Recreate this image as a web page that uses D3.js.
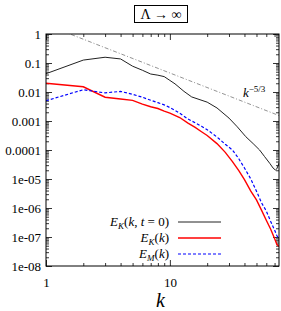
<!DOCTYPE html>
<html>
<head>
<script src="https://d3js.org/d3.v7.min.js"></script>
<style>
body { margin: 0; background: #fff; }
text { font-family: "Liberation Serif", "DejaVu Serif", serif; }
</style>
</head>
<body>
<div id="chart"></div>
<script>
// spectra
const kInit = [1, 2, 3, 4, 5, 6, 7, 8, 9, 10, 11, 13, 15, 20, 24, 30, 35, 41, 47, 53, 58, 64, 68, 71, 73, 76];
const eInit = [0.0427, 0.126, 0.158, 0.138, 0.0776, 0.0562, 0.0417, 0.038, 0.0339, 0.0251, 0.0191, 0.0105, 0.00676,
  0.00447, 0.00282, 0.00126, 6.3e-4, 2.88e-4, 1.66e-4, 1.0e-4, 6.0e-5, 3.47e-5, 2.4e-5, 2.04e-5, 2.24e-5, 3.55e-5];

const kSpec = [1, 2, 3, 4, 5, 6, 7, 8, 9, 10, 12, 14, 16, 18, 20, 24, 28, 32, 36, 40, 45, 50, 55, 60, 65, 70, 73, 76];
const eKin = [0.020, 0.0151, 0.0066, 0.00575, 0.00513, 0.0038, 0.00309, 0.00269, 0.00219, 0.00186, 0.00132, 8.5e-4,
  6.0e-4, 4.27e-4, 3.16e-4, 1.66e-4, 8.3e-5, 3.98e-5, 1.95e-5, 9.5e-6, 3.8e-6, 1.9e-6, 8.3e-7, 3.8e-7, 1.9e-7,
  8.9e-8, 5.6e-8, 4.7e-8];
const eMag = [0.005, 0.012, 0.0093, 0.0105, 0.0083, 0.0066, 0.0052, 0.0043, 0.0036, 0.0029, 0.00186, 0.00117,
  8.7e-4, 6.6e-4, 5.0e-4, 2.8e-4, 1.58e-4, 1.0e-4, 5.0e-5, 2.4e-5, 1.0e-5, 3.8e-6, 1.5e-6, 7.9e-7, 3.5e-7,
  1.74e-7, 1.12e-7, 8.3e-8];

// k^-5/3 guide line: C k^-5/3
const kGuide = [1, 76];
const cGuide = 2.1;

const yTicks = [1, 0.1, 0.01, 0.001, 0.0001, 1e-5, 1e-6, 1e-7, 1e-8];
const yTickLabels = ["1", "0.1", "0.01", "0.001", "0.0001", "1e-05", "1e-06", "1e-07", "1e-08"];
const xTicks = [1, 10];
const xTickLabels = ["1", "10"];

const svg = d3.select("#chart").append("svg")
  .attr("width", 281)
  .attr("height", 311);

const margin = { top: 34, right: 2, bottom: 45, left: 46 };
const width = 281 - margin.left - margin.right;
const height = 311 - margin.top - margin.bottom;

const xScale = d3.scaleLog().domain([1, 76]).range([0, width]);
const yScale = d3.scaleLog().domain([1e-8, 1]).range([height, 0]);

const chart = svg.append("g").attr("transform", `translate(${margin.left},${margin.top})`);

svg.append("defs").append("clipPath").attr("id", "clip")
  .append("rect").attr("width", width).attr("height", height);

// minor ticks 2..9 in each decade
const minorX = [];
for (let d = 1; d <= 10; d *= 10) for (let m = 2; m <= 9; m++) if (d * m <= 76) minorX.push(d * m);
const minorY = [];
for (let e = -8; e < 0; e++) for (let m = 2; m <= 9; m++) minorY.push(m * Math.pow(10, e));

function axes() {
  chart.append("g").attr("transform", `translate(0,${height})`)
    .call(d3.axisBottom(xScale).tickValues(minorX).tickSize(-3).tickFormat(""));
  chart.append("g")
    .call(d3.axisTop(xScale).tickValues(minorX).tickSize(-3).tickFormat(""));
  chart.append("g")
    .call(d3.axisLeft(yScale).tickValues(minorY).tickSize(-3).tickFormat(""));
  chart.append("g").attr("transform", `translate(${width},0)`)
    .call(d3.axisRight(yScale).tickValues(minorY).tickSize(-3).tickFormat(""));

  chart.append("g").attr("class", "xax").attr("transform", `translate(0,${height})`)
    .call(d3.axisBottom(xScale).tickValues(xTicks).tickSize(-6).tickPadding(12)
      .tickFormat((d, i) => xTickLabels[i]));
  chart.append("g")
    .call(d3.axisTop(xScale).tickValues(xTicks).tickSize(-6).tickFormat(""));
  chart.append("g").attr("class", "yax")
    .call(d3.axisLeft(yScale).tickValues(yTicks).tickSize(-6).tickPadding(5)
      .tickFormat((d, i) => yTickLabels[i]));
  chart.append("g").attr("transform", `translate(${width},0)`)
    .call(d3.axisRight(yScale).tickValues(yTicks).tickSize(-6).tickFormat(""));

  chart.selectAll(".domain").remove();
  chart.selectAll(".tick line").attr("stroke", "#000").attr("stroke-width", 0.8);
  chart.selectAll(".xax text, .yax text")
    .style("font-family", "'Liberation Serif', serif")
    .style("font-size", "13px")
    .attr("fill", "#000");
}
axes();

const plot = chart.append("g").attr("clip-path", "url(#clip)");

const line = d3.line()
  .x(d => xScale(d[0]))
  .y(d => yScale(d[1]));

plot.append("path")
  .datum(kGuide.map(k => [k, cGuide * Math.pow(k, -5 / 3)]))
  .attr("fill", "none")
  .attr("stroke", "#777")
  .attr("stroke-width", 0.8)
  .attr("stroke-dasharray", "4,2,1,2")
  .attr("d", line);

plot.append("path")
  .datum(kInit.map((k, i) => [k, eInit[i]]))
  .attr("fill", "none")
  .attr("stroke", "#222")
  .attr("stroke-width", 1)
  .attr("d", line);

plot.append("path")
  .datum(kSpec.map((k, i) => [k, eKin[i]]))
  .attr("fill", "none")
  .attr("stroke", "#f00")
  .attr("stroke-width", 1.4)
  .attr("d", line);

plot.append("path")
  .datum(kSpec.map((k, i) => [k, eMag[i]]))
  .attr("fill", "none")
  .attr("stroke", "#00f")
  .attr("stroke-width", 1.2)
  .attr("stroke-dasharray", "3,2")
  .attr("d", line);

// frame
chart.append("rect")
  .attr("width", width).attr("height", height)
  .attr("fill", "none").attr("stroke", "#000").attr("stroke-width", 1);

// k^-5/3 label
const guideLab = chart.append("text")
  .attr("x", 197).attr("y", 63)
  .style("font-size", "13px");
guideLab.append("tspan").style("font-style", "italic").text("k");
guideLab.append("tspan").attr("dy", -5).style("font-size", "9px").text("−5/3");

// legend
const legend = [
  { sub: "K", arg: ["(", "k", ", ", "t", " = 0)"], color: "#222", w: 1, dash: null },
  { sub: "K", arg: ["(", "k", ")"], color: "#f00", w: 1.4, dash: null },
  { sub: "M", arg: ["(", "k", ")"], color: "#00f", w: 1.2, dash: "3,2" }
];
const lg = chart.append("g");
legend.forEach((d, i) => {
  const y = 188 + i * 16;
  const t = lg.append("text").attr("x", 123).attr("y", y + 4)
    .attr("text-anchor", "end").style("font-size", "13px");
  t.append("tspan").style("font-style", "italic").text("E");
  t.append("tspan").attr("dy", 3).style("font-size", "9px").style("font-style", "italic").text(d.sub);
  d.arg.forEach((s, j) => {
    const sp = t.append("tspan").text(s);
    if (j === 0) sp.attr("dy", -3);
    if (s === "k" || s === "t") sp.style("font-style", "italic");
  });
  lg.append("line")
    .attr("x1", 132).attr("x2", 175).attr("y1", y).attr("y2", y)
    .attr("stroke", d.color).attr("stroke-width", d.w)
    .attr("stroke-dasharray", d.dash);
});

// axis label
svg.append("text")
  .attr("x", margin.left + width / 2 - 2).attr("y", 307)
  .attr("text-anchor", "middle")
  .style("font-size", "20px").style("font-style", "italic")
  .text("k");

// title box
svg.append("rect")
  .attr("x", 134.5).attr("y", 5.5).attr("width", 53).attr("height", 17)
  .attr("fill", "none").attr("stroke", "#000").attr("stroke-width", 1);
svg.append("text")
  .attr("x", 161).attr("y", 18.5)
  .attr("text-anchor", "middle")
  .style("font-size", "14px")
  .text("Λ → ∞");
</script>
</body>
</html>
